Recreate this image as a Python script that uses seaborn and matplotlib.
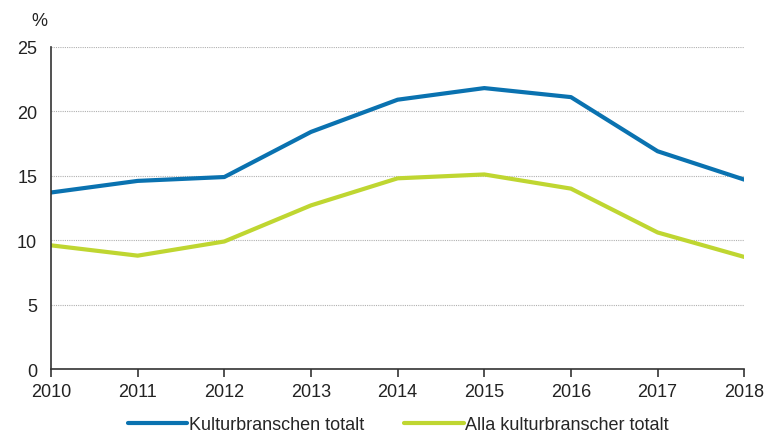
import pandas as pd
import matplotlib
matplotlib.use('Agg')
import matplotlib.pyplot as plt
import seaborn as sns

# Data
years = [2010, 2011, 2012, 2013, 2014, 2015, 2016, 2017, 2018]
kultur_totalt = [13.7, 14.6, 14.9, 18.4, 20.9, 21.8, 21.1, 16.9, 14.7]
alla_totalt = [9.6, 8.8, 9.9, 12.7, 14.8, 15.1, 14.0, 10.6, 8.7]
series_names = ['Kulturbranschen totalt', 'Alla kulturbranscher totalt']
colors = ['#0a72b0', '#bfd631']

df = pd.DataFrame({'År': years, series_names[0]: kultur_totalt, series_names[1]: alla_totalt})
long = df.melt(id_vars='År', var_name='Serie', value_name='Andel')

sns.set_style('white')
plt.rcParams['font.family'] = ['Liberation Sans', 'DejaVu Sans']

fig = plt.figure(figsize=(7.66, 4.39), dpi=100)
ax = fig.add_axes([0.0666, 0.157, 0.905, 0.734])

sns.lineplot(data=long, x='År', y='Andel', hue='Serie', palette=colors,
             linewidth=3, ax=ax, legend=False)

ax.set_xlim(2010, 2018)
ax.set_ylim(0, 25)
ax.set_xticks(years)
ax.set_yticks([0, 5, 10, 15, 20, 25])
ax.set_xlabel('')
ax.set_ylabel('')
ax.grid(axis='y', color='#b0b0b0', linestyle=(0, (1, 1)), linewidth=0.8)
ax.set_axisbelow(True)

for side in ['top', 'right']:
    ax.spines[side].set_visible(False)
for side in ['left', 'bottom']:
    ax.spines[side].set_color('#333333')
    ax.spines[side].set_linewidth(1.2)

ax.tick_params(axis='x', direction='out', length=6, width=1.2, color='#333333',
               labelsize=13, labelcolor='#222222', pad=4, bottom=True)
ax.tick_params(axis='y', length=0, labelsize=13, labelcolor='#222222', pad=10)

fig.text(0.052, 0.952, '%', fontsize=13, color='#222222', ha='center', va='center')

handles = [plt.Line2D([], [], color=c, linewidth=3) for c in colors]
fig.legend(handles, series_names, loc='center', bbox_to_anchor=(0.52, 0.03),
           ncol=2, frameon=False, fontsize=13, handlelength=3.3,
           handletextpad=0.1, columnspacing=2.2)

fig.savefig('out.png', dpi=100)
